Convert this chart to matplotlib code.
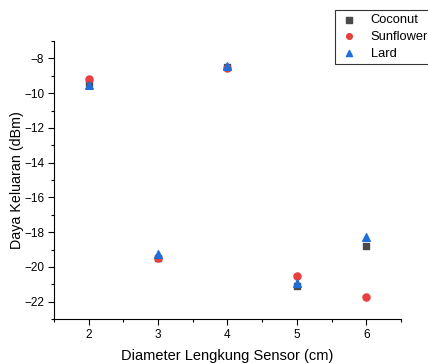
import matplotlib
matplotlib.use('Agg')
import matplotlib.pyplot as plt
from matplotlib.ticker import MultipleLocator

plt.rcParams['font.family'] = ['Liberation Sans', 'DejaVu Sans']

# Data
diameter = [2, 3, 4, 5, 6]
coconut = [-9.4, -19.5, -8.5, -21.1, -18.8]
sunflower = [-9.2, -19.5, -8.55, -20.5, -21.75]
lard = [-9.55, -19.25, -8.45, -20.9, -18.3]

fig = plt.figure(figsize=(4.28, 3.63), dpi=100)
ax = fig.add_axes([0.126, 0.121, 0.811, 0.766])

ax.scatter(diameter, coconut, marker='s', s=22, color='#4a4a4a', label='Coconut', zorder=3)
ax.scatter(diameter, sunflower, marker='o', s=26, color='#e8403f', label='Sunflower', zorder=3)
ax.scatter(diameter, lard, marker='^', s=30, color='#1e6fdb', label='Lard', zorder=4)

ax.set_xlim(1.5, 6.5)
ax.set_ylim(-23, -7)
ax.xaxis.set_major_locator(MultipleLocator(1))
ax.xaxis.set_minor_locator(MultipleLocator(0.5))
ax.yaxis.set_minor_locator(MultipleLocator(1))
ax.set_yticks(range(-22, -7, 2))

ax.spines['top'].set_visible(False)
ax.spines['right'].set_visible(False)
ax.tick_params(axis='both', which='major', direction='out', length=4, width=0.8,
               labelsize=8.5, pad=3)
ax.tick_params(axis='both', which='minor', direction='out', length=2, width=0.8)

ax.set_xlabel('Diameter Lengkung Sensor (cm)', fontsize=10.5, labelpad=6)
ax.set_ylabel('Daya Keluaran (dBm)', fontsize=10.3, labelpad=0)

leg = ax.legend(loc='upper left', bbox_to_anchor=(335 / 428, 1 - 10 / 363),
                bbox_transform=fig.transFigure, fontsize=9.3, frameon=True,
                fancybox=False, edgecolor='black', borderpad=0.3,
                labelspacing=0.38, handletextpad=0.85, handlelength=1.6,
                markerscale=0.8, borderaxespad=0)
leg.get_frame().set_linewidth(0.8)

fig.savefig('out.png', dpi=100, facecolor='white')
